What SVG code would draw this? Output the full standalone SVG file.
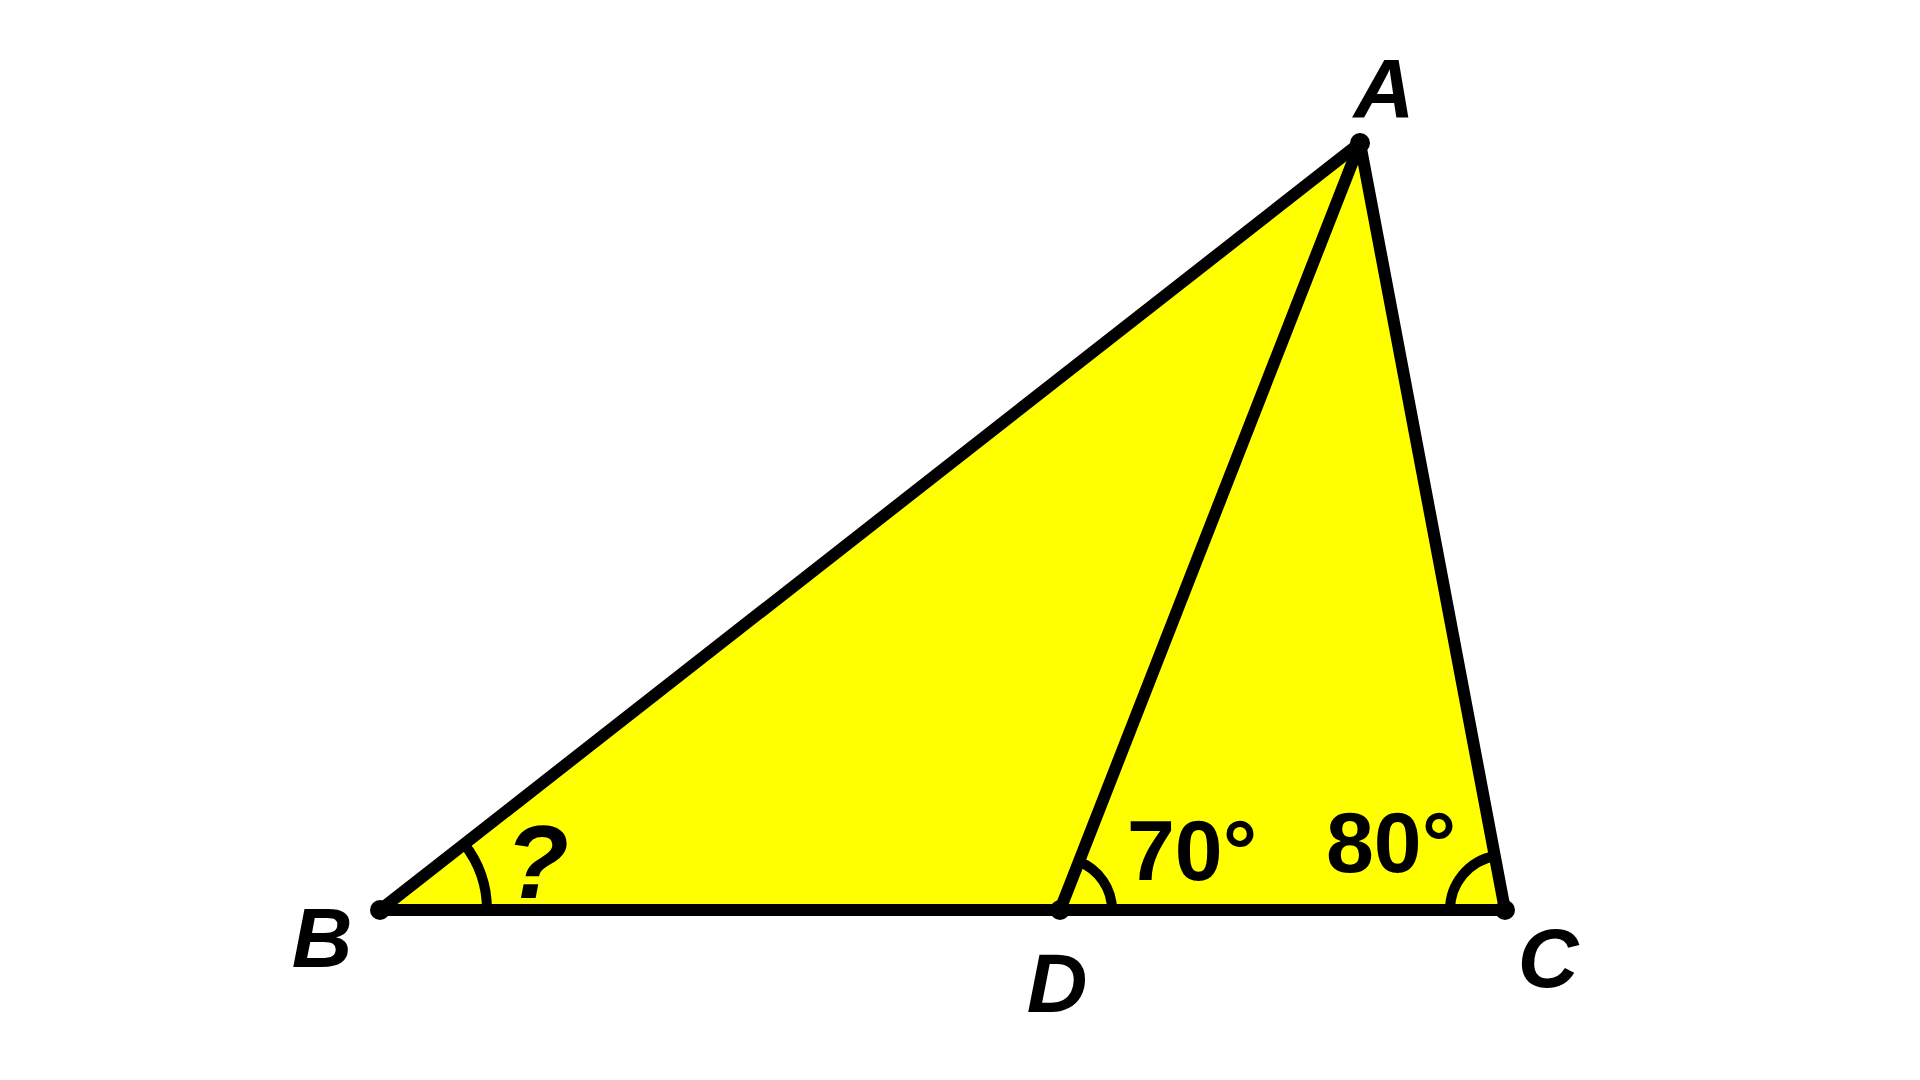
<svg xmlns="http://www.w3.org/2000/svg" width="1920" height="1080" viewBox="0 0 1920 1080">
<style>
.edge{stroke:#000;stroke-width:12;stroke-linecap:round;stroke-linejoin:round;fill:none}
.arc{stroke:#000;stroke-width:10;fill:none}
.lbl{font-family:"Liberation Sans","DejaVu Sans",sans-serif;font-weight:bold;font-style:italic;font-size:84px;fill:#000;text-anchor:middle}
.ang{font-family:"Liberation Sans","DejaVu Sans",sans-serif;font-weight:bold;font-size:86px;fill:#000}
</style>
<rect width="1920" height="1080" fill="#fff"/>
<polygon points="380,910 1505,910 1360,143" fill="#ffff00"/>
<g id="connectors">
<line class="edge" x1="380" y1="910" x2="1505" y2="910"/>
<line class="edge" x1="380" y1="910" x2="1360" y2="143"/>
<line class="edge" x1="1505" y1="910" x2="1360" y2="143"/>
<line class="edge" x1="1060" y1="910" x2="1360" y2="143"/>
</g>
<g id="angles">
<path class="arc" d="M487,910 A107,107 0 0 0 464.3,844.1"/>
<path class="arc" d="M1112,910 A52,52 0 0 0 1079,861.6"/>
<path class="arc" d="M1450,910 A55,55 0 0 1 1494.8,856"/>
<text class="ang" x="1127" y="880">70°</text>
<text class="ang" x="1326" y="872">80°</text>
<text class="lbl" x="537" y="898" style="font-size:104px">?</text>
</g>
<g id="node-A"><circle cx="1360" cy="143" r="10"/><text class="lbl" x="1384" y="118">A</text></g>
<g id="node-B"><circle cx="380" cy="910" r="10"/><text class="lbl" x="322" y="967">B</text></g>
<g id="node-D"><circle cx="1060" cy="910" r="10"/><text class="lbl" x="1057" y="1012">D</text></g>
<g id="node-C"><circle cx="1505" cy="910" r="10"/><text class="lbl" x="1548" y="987">C</text></g>
</svg>
